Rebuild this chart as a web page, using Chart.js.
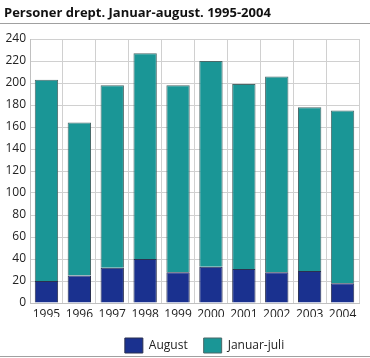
<!DOCTYPE html>
<html>
<head>
<meta charset="utf-8">
<script src="https://cdn.jsdelivr.net/npm/chart.js@4/dist/chart.umd.min.js"></script>
<style>
html,body{margin:0;padding:0;background:#fff;}
#wrap{width:370px;height:358px;position:relative;}
</style>
</head>
<body>
<div id="wrap"><canvas id="c" width="370" height="358"></canvas></div>
<script>
const titleText = 'Personer drept. Januar-august. 1995-2004';
const years = ["1995","1996","1997","1998","1999","2000","2001","2002","2003","2004"];
const august = [20, 25, 32, 40, 28, 33, 31, 28, 29, 18];
const totals = [203, 164, 198, 227, 198, 220, 199, 206, 178, 175];
const januarJuli = totals.map((t, i) => t - august[i]);
const yTicks = [0, 20, 40, 60, 80, 100, 120, 140, 160, 180, 200, 220, 240];

const PLOT_BOTTOM = 303;

const deco = {
  id: 'deco',
  afterLayout(chart) {
    const lg = chart.legend;
    if (lg) {
      const dx = 25, dy = 5;
      lg.left += dx; lg.right += dx; lg.top += dy; lg.bottom += dy;
    }
  },
  afterDraw(chart) {
    const ctx = chart.ctx;
    ctx.save();
    ctx.fillStyle = '#111';
    ctx.font = 'bold 13px "Open Sans"';
    ctx.textBaseline = 'alphabetic';
    ctx.textAlign = 'left';
    ctx.fillText(titleText, 4, 17);
    ctx.strokeStyle = '#a0a0a0';
    ctx.lineWidth = 1;
    ctx.beginPath();
    ctx.moveTo(0, 23.5); ctx.lineTo(370, 23.5);
    ctx.moveTo(0, 356.5); ctx.lineTo(370, 356.5);
    ctx.stroke();
    ctx.restore();
  }
};

new Chart(document.getElementById('c'), {
  type: 'bar',
  data: {
    labels: years,
    datasets: [
      { label: 'August', data: august, backgroundColor: '#1a318f', borderColor: '#2a3050', borderWidth: 1, categoryPercentage: 0.71, barPercentage: 1 },
      { label: 'Januar-juli', data: januarJuli, backgroundColor: '#1a9696', borderColor: '#4a6868', borderWidth: 1, categoryPercentage: 0.71, barPercentage: 1 }
    ]
  },
  options: {
    responsive: false,
    animation: false,
    layout: { padding: { left: 0, right: 11, top: 39, bottom: 0 } },
    plugins: {
      title: { display: false },
      legend: {
        position: 'bottom',
        labels: { boxWidth: 18, boxHeight: 15, color: '#222', font: { family: 'Open Sans', size: 12 }, padding: 16 }
      },
      tooltip: { enabled: false }
    },
    scales: {
      x: {
        stacked: true,
        afterFit: (s) => { s.height = 358 - PLOT_BOTTOM - (s.chart.legend ? s.chart.legend.height : 0); },
        grid: { color: '#d0d0d0', offset: true, drawTicks: false },
        border: { color: '#c0c0c0' },
        ticks: { color: '#222', font: { family: 'Open Sans', size: 12 }, padding: 4, maxRotation: 0 }
      },
      y: {
        stacked: true, min: 0, max: 240,
        afterBuildTicks: (s) => { s.ticks = yTicks.map(v => ({ value: v })); },
        afterFit: (s) => { s.width = 30; },
        grid: { color: '#d0d0d0', drawTicks: false },
        border: { color: '#c0c0c0' },
        ticks: { color: '#222', font: { family: 'Open Sans', size: 12 }, padding: 4 }
      }
    }
  },
  plugins: [deco]
});
</script>
</body>
</html>
